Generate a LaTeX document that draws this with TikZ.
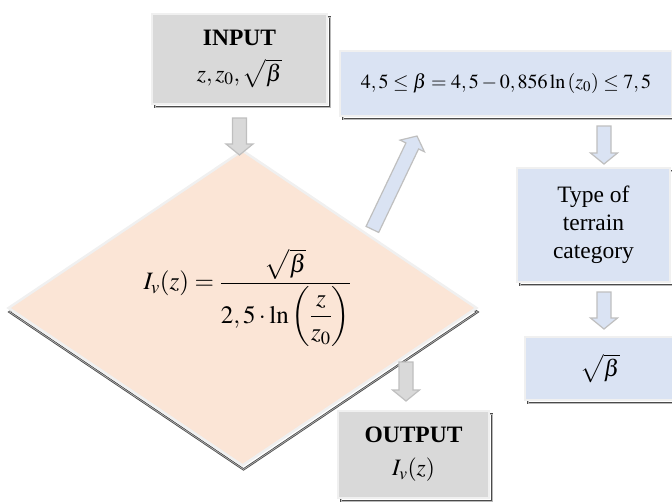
\documentclass[tikz,border=0pt]{standalone}
\usepackage{amsmath}
\usepackage{mathptmx}
\usepackage{fontspec}
\setmainfont{Liberation Serif}
\usetikzlibrary{shapes.geometric,shadows,calc}
\definecolor{boxgray}{HTML}{D9D9D9}
\definecolor{boxblue}{HTML}{DAE3F3}
\definecolor{boxpeach}{HTML}{FBE5D6}
\definecolor{rimgray}{HTML}{F0F0F0}
\definecolor{arrowrim}{HTML}{BFBFBF}
\definecolor{shadowdark}{HTML}{4A4A4A}
\tikzset{
  shadowline/.style 2 args={drop shadow={shadow xshift=#1,shadow yshift=#2,fill=none,opacity=1,
    draw=shadowdark,line width=0.8pt,double=gray!55,double distance=0.6pt}},
  flowbox/.style={draw=rimgray,line width=2pt,shadowline={3pt}{-3pt},inner sep=2pt,align=center,
    font=\fontsize{23.5}{28}\selectfont},
  blockarrow/.style={line width=1.2pt,draw=arrowrim,to path={
    let \p1=(\tikztostart), \p2=(\tikztotarget),
        \n1={atan2(\y2-\y1,\x2-\x1)}, \n2={veclen(\x2-\x1,\y2-\y1)} in
    ([shift={(\p1)},rotate=\n1]0pt,7pt) -- ([shift={(\p1)},rotate=\n1]{\n2-11pt},7pt)
    -- ([shift={(\p1)},rotate=\n1]{\n2-11pt},13.5pt) -- ([shift={(\p1)},rotate=\n1]{\n2},0pt)
    -- ([shift={(\p1)},rotate=\n1]{\n2-11pt},-13.5pt) -- ([shift={(\p1)},rotate=\n1]{\n2-11pt},-7pt)
    -- ([shift={(\p1)},rotate=\n1]0pt,-7pt) -- cycle}}
}
\begin{document}
\begin{tikzpicture}[x=1pt,y=-1pt]
\useasboundingbox (0,0) rectangle (672,503);
% boxes
\node[flowbox,fill=boxgray,minimum width=175pt,minimum height=90pt] (input) at (239.5,59)
  {\textbf{INPUT}\\[8pt]$z, z_0, \sqrt{\beta}$};
\node[flowbox,fill=boxblue,minimum width=332pt,minimum height=65pt,font=\fontsize{20}{24}\selectfont] (beta) at (506,83.5)
  {$4,5\le\beta=4,5-0,856\ln\left(z_0\right)\le7,5$};
\node[flowbox,fill=boxblue,minimum width=153pt,minimum height=114pt] (terrain) at (593.5,225)
  {Type of\\terrain\\category};
\node[flowbox,fill=boxblue,minimum width=150pt,minimum height=63pt] (root) at (600,368.5)
  {$\sqrt{\beta}$};
\node[flowbox,fill=boxgray,minimum width=151pt,minimum height=87pt] (output) at (413.5,454.5)
  {\textbf{OUTPUT}\\[5pt]$I_v(z)$};
% decision
\node[diamond,draw=rimgray,fill=boxpeach,line width=2.5pt,shadowline={1pt}{-4pt},inner sep=0pt,
  minimum width=469pt,minimum height=296pt,font=\fontsize{25}{30}\selectfont] (dia) at (242.5,308)
  {\raisebox{10pt}[\height][\depth]{\hspace*{10pt}$\displaystyle I_v(z)=\frac{\sqrt{\beta}}{2,5\cdot\ln\left(\dfrac{z}{z_0}\right)}$}};
% block arrows
\draw[blockarrow,fill=boxgray] ([yshift=-13pt]input.south) to ([yshift=-50pt]input.south);
\draw[blockarrow,fill=boxblue] ([xshift=12pt,yshift=-1pt]dia.north east) to ([xshift=78pt,yshift=-19pt]beta.south west);
\draw[blockarrow,fill=boxblue] ([xshift=10.5pt,yshift=41pt]terrain.north) to ([xshift=10.5pt,yshift=3pt]terrain.north);
\draw[blockarrow,fill=boxblue] ([xshift=4pt,yshift=44pt]root.north) to ([xshift=4pt,yshift=7pt]root.north);
\draw[blockarrow,fill=boxgray] ([xshift=-7.5pt,yshift=48pt]output.north) to ([xshift=-7.5pt,yshift=9pt]output.north);
\end{tikzpicture}
\end{document}
